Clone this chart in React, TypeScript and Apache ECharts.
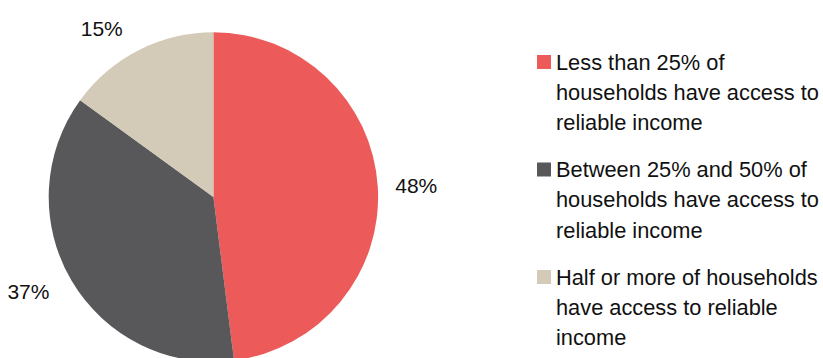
import React, { useEffect, useRef } from "react";
import * as echarts from "echarts";

const categories = [
  "Less than 25% of\nhouseholds have access to\nreliable income",
  "Between 25% and 50% of\nhouseholds have access to\nreliable income",
  "Half or more of households\nhave access to reliable\nincome",
];
const values = [48, 37, 15];
const colors = ["#ED5A5A", "#58585A", "#D3CAB8"];

const FONT = "'Liberation Sans', Arial, sans-serif";
// per-slice label distance from the pie edge (style only)
const labelLineLengths = [12.5, 20, 24];

export default function App() {
  const ref = useRef<HTMLDivElement>(null);
  useEffect(() => {
    document.body.style.margin = "0";
    const chart = echarts.init(ref.current!, null, { renderer: "svg" });
    chart.setOption({
      animation: false,
      color: colors,
      legend: {
        orient: "vertical",
        left: 537,
        top: -13.75,
        padding: 0,
        itemWidth: 14,
        itemHeight: 14,
        itemGap: -44,
        icon: "rect",
        selectedMode: false,
        formatter: (name: string) => "\n\n" + name,
        textStyle: {
          fontFamily: FONT,
          fontSize: 21.8,
          lineHeight: 30.3,
          color: "#111111",
        },
        data: categories,
      },
      series: [
        {
          type: "pie",
          center: [213.4, 197],
          radius: 164.7,
          startAngle: 90,
          clockwise: true,
          avoidLabelOverlap: false,
          label: {
            show: true,
            position: "outside",
            formatter: "{c}%",
            fontFamily: FONT,
            fontSize: 21,
            color: "#111111",
          },
          labelLine: { show: false, length: 18, length2: 0 },
          emphasis: { disabled: true },
          data: categories.map((name, i) => ({
            name,
            value: values[i],
            labelLine: { show: false, length: labelLineLengths[i], length2: 0 },
          })),
        },
      ],
    });
    return () => chart.dispose();
  }, []);
  return <div ref={ref} style={{ width: 823, height: 358 }} />;
}
